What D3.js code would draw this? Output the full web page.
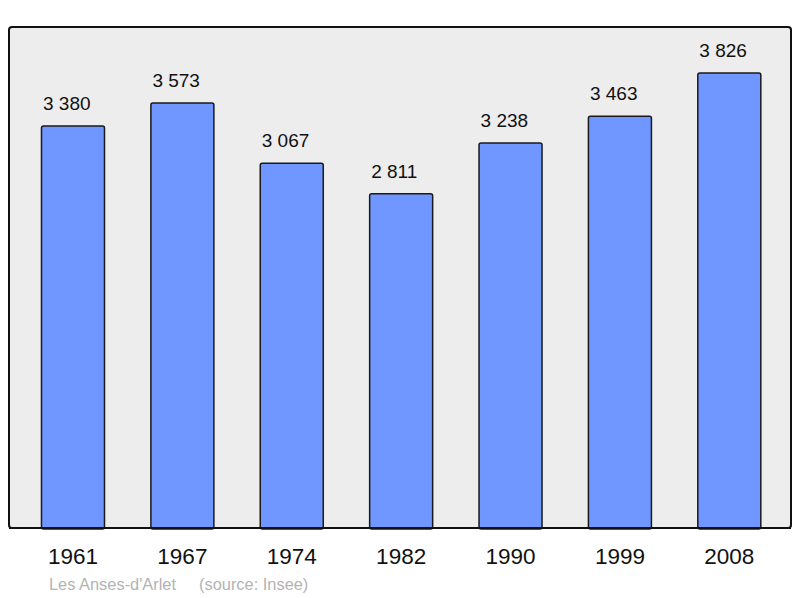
<!DOCTYPE html>
<html><head><meta charset="utf-8">
<script src="https://cdn.jsdelivr.net/npm/d3@7"></script>
<style>body{margin:0;background:#fff}svg{display:block}</style>
</head><body>
<script>
const years = ["1961","1967","1974","1982","1990","1999","2008"];
const population = [3380,3573,3067,2811,3238,3463,3826];
const captionParts = ["Les Anses-d'Arlet", "(source: Insee)"];

const W = 800, H = 598;
const panel = {x0: 9, y0: 27, x1: 791, y1: 528};
const svg = d3.select("body").append("svg").attr("width", W).attr("height", H);
const font = "'Liberation Sans', Arial, sans-serif";

svg.append("rect")
  .attr("x", panel.x0).attr("y", panel.y0)
  .attr("width", panel.x1 - panel.x0).attr("height", panel.y1 - panel.y0)
  .attr("rx", 3).attr("ry", 3)
  .attr("fill", "#ededed").attr("stroke", "#111").attr("stroke-width", 2);

const x = d3.scaleBand().domain(years).range([18.3, 784]).paddingInner(0.424).paddingOuter(0.212);
const y = d3.scaleLinear().domain([0, 4213]).range([panel.y1, panel.y0]);

const data = years.map((yr, i) => ({yr, v: population[i]}));

svg.selectAll("rect.bar").data(data).join("rect").attr("class", "bar")
  .attr("x", d => x(d.yr)).attr("y", d => y(d.v))
  .attr("width", x.bandwidth()).attr("height", d => y(0) - y(d.v) + 1)
  .attr("rx", 2).attr("ry", 2)
  .attr("fill", "#7097ff").attr("stroke", "#1a1a1a").attr("stroke-width", 1.5);

svg.append("line").attr("x1", panel.x0).attr("x2", panel.x1)
  .attr("y1", panel.y1).attr("y2", panel.y1).attr("stroke", "#111").attr("stroke-width", 2);

const fmt = v => d3.format(",")(v).replace(/,/g, " ");
svg.selectAll("text.val").data(data).join("text").attr("class", "val")
  .attr("x", d => x(d.yr) + 1.5).attr("y", d => y(d.v) - 16)
  .attr("font-family", font).attr("font-size", 19).attr("fill", "#111")
  .text(d => fmt(d.v));

const xAxis = d3.axisBottom(x).tickSize(0).tickPadding(0);
const gx = svg.append("g").attr("transform", `translate(0,${panel.y1})`).call(xAxis);
gx.select(".domain").remove();
gx.selectAll("text").attr("font-family", font).attr("font-size", 22.5).attr("fill", "#111")
  .attr("dy", null).attr("y", 36);

svg.selectAll("text.cap").data(captionParts).join("text").attr("class", "cap")
  .attr("x", (d, i) => i === 0 ? 49 : 199).attr("y", 590)
  .attr("font-family", font).attr("font-size", 16.4).attr("fill", "#b3b3b3")
  .text(d => d);
</script>
</body></html>
